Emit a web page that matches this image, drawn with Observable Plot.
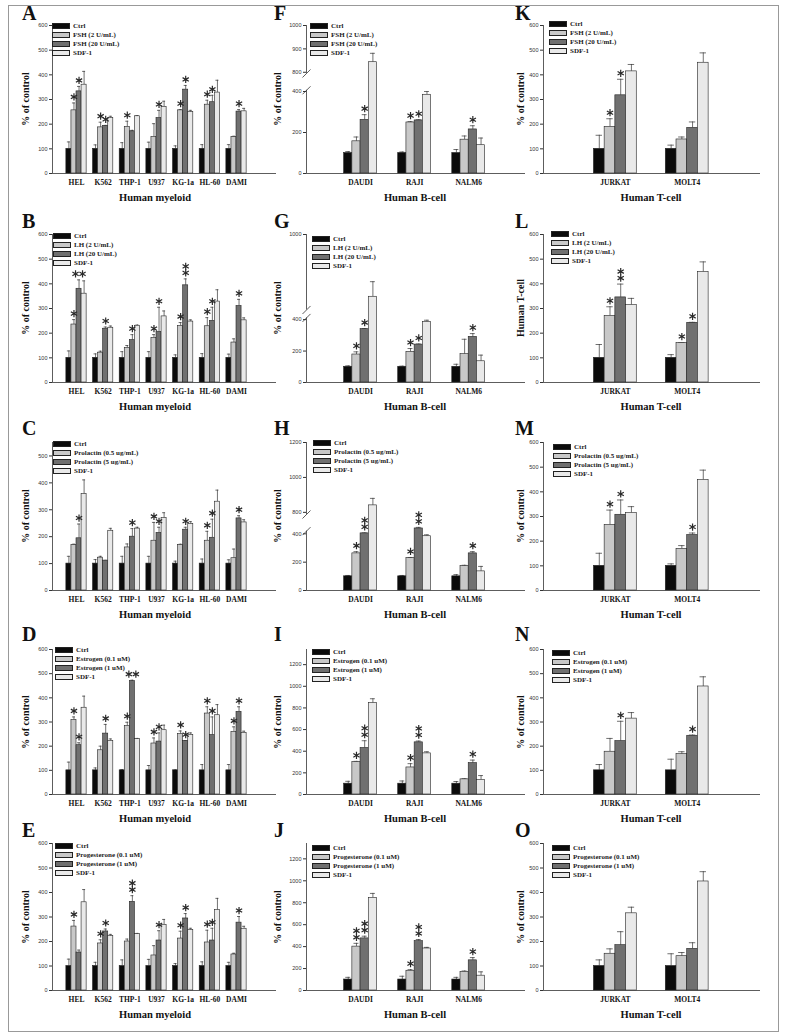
<!DOCTYPE html>
<html><head><meta charset="utf-8">
<script src="https://cdn.jsdelivr.net/npm/d3@7"></script>
<script src="https://cdn.jsdelivr.net/npm/@observablehq/plot@0.6"></script>
<style>
body{margin:0;background:#fff;}
#fig{position:relative;width:786px;height:1036px;overflow:hidden;background:#fff;}
.letter{position:absolute;font:bold 20px 'Liberation Serif','Times New Roman',serif;line-height:15px;height:15px;color:#111;}
.ytitle{position:absolute;transform:translate(-50%,-50%) rotate(-90deg);white-space:nowrap;font:bold 10px 'Liberation Serif',serif;color:#111;}
.xtitle{position:absolute;transform:translate(-50%,-50%);white-space:nowrap;font:bold 10.5px 'Liberation Serif',serif;color:#111;}
.leg{position:absolute;font:bold 7px 'Liberation Serif',serif;color:#222;}
.leg div{height:9px;display:flex;align-items:center;white-space:nowrap;}
.leg span.sw{display:inline-block;width:16px;height:4px;border:0.7px solid #222;margin-right:3px;}
#border{position:absolute;left:8px;top:5px;width:769px;height:1025px;border:1px solid #999;}
</style></head><body><div id="fig"><div id="border"></div></div>
<script>
// ---------- categories ----------
const myeloidCells = ["HEL","K562","THP-1","U937","KG-1a","HL-60","DAMI"];
const bCells = ["DAUDI","RAJI","NALM6"];
const tCells = ["JURKAT","MOLT4"];

// ---------- legends ----------
const legendFSH = ["Ctrl","FSH (2 U/mL)","FSH (20 U/mL)","SDF-1"];
const legendLH  = ["Ctrl","LH (2 U/mL)","LH (20 U/mL)","SDF-1"];
const legendPRL = ["Ctrl","Prolactin (0.5 ug/mL)","Prolactin (5 ug/mL)","SDF-1"];
const legendE2  = ["Ctrl","Estrogen (0.1 uM)","Estrogen (1 uM)","SDF-1"];
const legendP4  = ["Ctrl","Progesterone (0.1 uM)","Progesterone (1 uM)","SDF-1"];

// ---------- y tick labels ----------
const ticks600 = [0,100,200,300,400,500,600];
const ticks500 = [0,100,200,300,400,500];
const ticksF = [0,200,400,800,900,1000];
const ticksG = [0,200,400,1000];
const ticksH = [0,200,400,800,1000,1200];
const ticks1200 = [0,200,400,600,800,1000,1200];

// ---------- values (rows: Ctrl, low dose, high dose, SDF-1) ----------
const meanA = [[100,100,100,100,100,100,100],[256,187,189,148,256,279,148],[333,193,171,225,340,289,251],[360,225,232,270,249,328,252]];
const errA  = [[28,16,25,27,12,17,17],[30,21,23,54,3,18,3],[20,2,4,31,17,28,8],[54,7,3,23,7,50,12]];
const starA = [["","","","","","",""],["*","*","*","","*","*",""],["*","*","","*","*","*","*"],["","","","","","",""]];

const meanB = [[100,100,100,100,100,100,100],[235,121,140,181,229,228,162],[380,218,172,205,394,250,310],[360,222,230,268,247,328,252]];
const errB  = [[28,16,25,25,12,17,15],[20,6,10,13,14,35,15],[36,7,22,100,26,55,27],[52,7,3,22,7,48,10]];
const starB = [["","","","","","",""],["*","","","*","*","*",""],["**","*","*","*","*\n*","*","*"],["","","","","","",""]];

const meanC = [[100,100,100,100,100,100,100],[169,122,160,185,169,185,120],[194,111,200,214,226,196,268],[358,222,230,269,247,330,253]];
const errC  = [[27,15,27,27,9,17,14],[3,5,13,68,3,35,34],[53,1,30,21,9,69,10],[53,9,5,20,9,43,10]];
const starC = [["","","","","","",""],["","","","*","","*",""],["*","","*","*","*","*","*"],["","","","","","",""]];

const meanD = [[100,100,100,100,100,100,100],[308,183,283,211,250,335,259],[204,252,469,219,221,246,342],[359,222,229,266,247,328,255]];
const errD  = [[34,10,3,20,2,24,24],[13,17,16,23,13,28,21],[10,38,4,36,2,75,21],[48,8,3,21,8,44,7]];
const starD = [["","","","","","",""],["*","","*","*","*","*","*"],["*","*","**","*","*","*","*"],["","","","","","",""]];

const meanE = [[100,100,100,100,100,100,100],[261,192,200,143,212,196,147],[155,241,362,204,294,204,277],[360,222,230,268,247,328,252]];
const errE  = [[28,15,25,27,10,17,15],[25,15,10,40,30,50,5],[10,10,25,40,20,50,25],[52,7,3,22,7,48,10]];
const starE = [["","","","","","",""],["*","*","","","*","*",""],["","*","*\n*","*","*","*","*"],["","","","","","",""]];

const meanF = [[100,100,100],[157,249,165],[262,259,215],[843,384,138]];
const errF  = [[7,5,17],[21,4,18],[25,3,18],[38,16,35]];
const starF = [["","",""],["","*",""],["*","*","*"],["","",""]];

const meanG = [[100,100,100],[178,195,180],[339,241,290],[835,385,135]];
const errG  = [[6,4,16],[17,21,95],[4,4,21],[40,11,39]];
const starG = [["","",""],["*","*",""],["*","*","*"],["","",""]];

const meanH = [[100,100,100],[262,228,172],[408,500,262],[840,383,135]];
const errH  = [[6,6,12],[12,5,6],[10,20,12],[40,10,35]];
const starH = [["","",""],["*","*",""],["*\n*","*\n*","*"],["","",""]];

const meanI = [[100,100,100],[300,250,140],[430,482,290],[845,380,135]];
const errI  = [[22,25,20],[6,35,6],[67,12,28],[40,15,40]];
const starI = [["","",""],["*","*",""],["*\n*","*\n*","*"],["","",""]];

const meanJ = [[100,100,100],[400,180,170],[475,450,275],[845,383,135]];
const errJ  = [[20,30,20],[30,10,8],[20,15,25],[40,10,35]];
const starJ = [["","",""],["*\n*","*",""],["*\n*","*\n*","*"],["","",""]];

const meanK = [[100,100],[189,138],[317,185],[414,449]];
const errK  = [[55,15],[33,10],[65,24],[28,40]];
const starK = [["",""],["*",""],["*",""],["",""]];

const meanL = [[100,100],[270,160],[345,242],[314,448]];
const errL  = [[54,13],[37,2],[54,2],[27,41]];
const starL = [["",""],["*","*"],["*\n*","*"],["",""]];

const meanM = [[100,100],[266,169],[307,225],[314,448]];
const errM  = [[51,8],[60,13],[60,8],[26,40]];
const starM = [["",""],["*",""],["*","*"],["",""]];

const meanN = [[100,100],[177,167],[221,243],[314,447]];
const errN  = [[24,46],[55,10],[82,3],[25,40]];
const starN = [["",""],["",""],["*","*"],["",""]];

const meanO = [[100,100],[150,140],[185,170],[315,445]];
const errO  = [[25,50],[20,15],[55,25],[25,40]];
const starO = [["",""],["",""],["",""],["",""]];

// ---------- layout (positions only) ----------
const COLS = [
  {left:0,   width:282, axis:52,  end:276, padL:-0.9, padR:1.5,  barW:0.19,  ytX:25,  xtX:155, letX:22,  cells:myeloidCells, xt:"Human myeloid"},
  {left:268, width:262, axis:306, end:525, padL:-1.0, padR:1.05, barW:0.152, ytX:277, xtX:415, letX:274, cells:bCells, xt:"Human B-cell"},
  {left:512, width:268, axis:543, end:760, padL:-1.0, padR:1.02, barW:0.149, ytX:520, xtX:651, letX:515, cells:tCells, xt:"Human T-cell"}
];
const ROWS = [
  {top:25,  zero:173, letY:6},
  {top:234, zero:382, letY:214},
  {top:442, zero:590, letY:421},
  {top:649, zero:794, letY:627},
  {top:843, zero:990, letY:823}
];
const colors = ["#0b0b0b","#c8c8c8","#707070","#e9e9e9"];
const serif = "Liberation Serif";
const sans = "Liberation Sans";

const panels = [
  {id:"A",col:0,row:0,legend:legendFSH,mean:meanA,err:errA,star:starA,yDomain:[0,600],yTicks:ticks600,leg:[52,26]},
  {id:"B",col:0,row:1,legend:legendLH,mean:meanB,err:errB,star:starB,yDomain:[0,600],yTicks:ticks600,leg:[53,236]},
  {id:"C",col:0,row:2,legend:legendPRL,mean:meanC,err:errC,star:starC,yDomain:[0,550],yTicks:ticks500,leg:[53,444]},
  {id:"D",col:0,row:3,legend:legendE2,mean:meanD,err:errD,star:starD,yDomain:[0,600],yTicks:ticks600,leg:[55,650]},
  {id:"E",col:0,row:4,legend:legendP4,mean:meanE,err:errE,star:starE,yDomain:[0,600],yTicks:ticks600,leg:[55,846]},
  {id:"F",col:1,row:0,legend:legendFSH,mean:meanF,err:errF,star:starF,yDomain:[0,400,800,1000],yFrac:[0,0.554,0.684,1],yTicks:ticksF,breaks:[425,775],leg:[310,26]},
  {id:"G",col:1,row:1,legend:legendLH,mean:meanG,err:errG,star:starG,yDomain:[0,400,800,1000],yFrac:[0,0.425,0.49,1],yTicks:ticksG,breaks:[470,800],leg:[312,239]},
  {id:"H",col:1,row:2,legend:legendPRL,mean:meanH,err:errH,star:starH,yDomain:[0,400,800,1200],yFrac:[0,0.383,0.528,1],yTicks:ticksH,breaks:[450,760],leg:[313,443]},
  {id:"I",col:1,row:3,legend:legendE2,mean:meanI,err:errI,star:starI,yDomain:[0,1340],yTicks:ticks1200,leg:[312,652]},
  {id:"J",col:1,row:4,legend:legendP4,mean:meanJ,err:errJ,star:starJ,yDomain:[0,1340],yTicks:ticks1200,leg:[312,848]},
  {id:"K",col:2,row:0,legend:legendFSH,mean:meanK,err:errK,star:starK,yDomain:[0,600],yTicks:ticks600,leg:[549,24]},
  {id:"L",col:2,row:1,legend:legendLH,mean:meanL,err:errL,star:starL,yDomain:[0,600],yTicks:ticks600,leg:[551,234],ytitle:"Human T-cell"},
  {id:"M",col:2,row:2,legend:legendPRL,mean:meanM,err:errM,star:starM,yDomain:[0,600],yTicks:ticks600,leg:[553,447]},
  {id:"N",col:2,row:3,legend:legendE2,mean:meanN,err:errN,star:starN,yDomain:[0,600],yTicks:ticks600,leg:[552,653]},
  {id:"O",col:2,row:4,legend:legendP4,mean:meanO,err:errO,star:starO,yDomain:[0,600],yTicks:ticks600,leg:[552,848]}
];

const fig = document.getElementById("fig");
function addDiv(cls, text, x, y) {
  const d = document.createElement("div");
  d.className = cls; d.textContent = text;
  d.style.left = x + "px"; d.style.top = y + "px";
  fig.appendChild(d); return d;
}

for (const p of panels) {
  const col = COLS[p.col], row = ROWS[p.row];
  const cells = col.cells, n = cells.length;
  const recs = [];
  p.mean.forEach((ser, j) => ser.forEach((v, i) => recs.push({i, j, v, e: p.err[j][i], s: p.star[j][i]})));
  const bw = col.barW;
  const mid = d => d.i + (d.j - 1.5) * bw;
  const mt = 14, mb = 40;
  const H = row.zero - row.top;
  const height = H + mt + mb;
  const ml = col.axis - col.left, mr = col.left + col.width - col.end;
  const xDomain = [col.padL, n - 1 + col.padR];
  const ymax = p.yDomain[p.yDomain.length - 1];
  // broken axis: piecewise mapping of values onto the axis, otherwise identity
  const f = p.yFrac ? d3.scaleLinear().domain(p.yDomain).range(p.yFrac.map(t => t * ymax)) : (v => v);
  const tickLabel = new Map(p.yTicks.map(t => [f(t), String(t)]));
  const segs = p.breaks ? [[0, p.breaks[0]], [p.breaks[1], ymax]] : [[0, ymax]];
  const marks = [];
  for (let j = 0; j < 4; j++) {
    const sub = recs.filter(d => d.j === j);
    marks.push(Plot.ruleX(sub, {x: mid, y1: d => f(d.v), y2: d => f(d.v + d.e), stroke: "#333", strokeWidth: 0.7}));
    marks.push(Plot.ruleY(sub, {y: d => f(d.v + d.e), x1: d => mid(d) - bw * 0.3, x2: d => mid(d) + bw * 0.3, stroke: "#333", strokeWidth: 0.7}));
    marks.push(Plot.rect(sub, {x1: d => mid(d) - bw / 2, x2: d => mid(d) + bw / 2, y1: 0, y2: d => f(d.v), fill: colors[j], stroke: "#222", strokeWidth: 0.6}));
  }
  // significance asterisks: "*" single, "**" side by side, "*\n*" stacked
  const starItems = [];
  recs.filter(d => d.s).forEach(d => {
    d.s.split("\n").forEach((ln, li) => {
      for (let k = 0; k < ln.length; k++) starItems.push({...d, key: `${li}-${k}-${ln.length}`, li, k, cnt: ln.length});
    });
  });
  for (const [key, items] of d3.group(starItems, s => s.key)) {
    const s0 = items[0];
    marks.push(Plot.dot(items, {x: mid, y: d => f(d.v + d.e), symbol: "asterisk", r: 3.4, stroke: "#2a2a2a", strokeWidth: 1.2,
      dx: (s0.k - (s0.cnt - 1) / 2) * 7, dy: -6 - s0.li * 6.5}));
  }
  marks.push(Plot.ruleY([0], {stroke: "#333", strokeWidth: 0.8}));
  marks.push(Plot.ruleX(segs, {x: xDomain[0], y1: d => f(d[0]), y2: d => f(d[1]), stroke: "#333", strokeWidth: 0.8}));
  if (p.breaks) {
    // short slanted break strokes across the y-axis line
    const dxu = (xDomain[1] - xDomain[0]) / (col.end - col.axis) * 4;
    const dyu = ymax / H * 4;
    marks.push(Plot.link(p.breaks, {x1: xDomain[0] - dxu, x2: xDomain[0] + dxu, y1: d => f(d) - dyu, y2: d => f(d) + dyu, stroke: "#333", strokeWidth: 0.8}));
  }
  marks.push(Plot.axisY({ticks: p.yTicks.map(f), tickFormat: d => tickLabel.get(d), tickSize: 3, tickPadding: 2, fontSize: 5.5, fontFamily: sans, label: null, color: "#333"}));
  marks.push(Plot.axisX({ticks: d3.range(n), tickFormat: d => cells[d], tickSize: 0, tickPadding: 6, fontSize: 7.5, fontWeight: "bold", fontFamily: serif, label: null, color: "#111"}));
  const svg = Plot.plot({
    width: col.width, height,
    marginTop: mt, marginBottom: mb, marginLeft: ml, marginRight: mr,
    x: {domain: xDomain},
    y: {domain: [0, ymax]},
    style: {background: "transparent", overflow: "visible", maxWidth: "none"},
    marks
  });
  svg.style.position = "absolute";
  svg.style.left = col.left + "px";
  svg.style.top = (row.top - mt) + "px";
  fig.appendChild(svg);

  addDiv("letter", p.id, col.letX, row.letY);
  addDiv("ytitle", p.ytitle || "% of control", col.ytX, (row.top + row.zero) / 2);
  addDiv("xtitle", col.xt, col.xtX, row.zero + 24);
  const lg = addDiv("leg", "", p.leg[0], p.leg[1] - 4.5);
  p.legend.forEach((t, j) => {
    const r = document.createElement("div");
    const sw = document.createElement("span");
    sw.className = "sw"; sw.style.background = colors[j];
    r.appendChild(sw);
    r.appendChild(document.createTextNode(t));
    lg.appendChild(r);
  });
}
</script></body></html>
